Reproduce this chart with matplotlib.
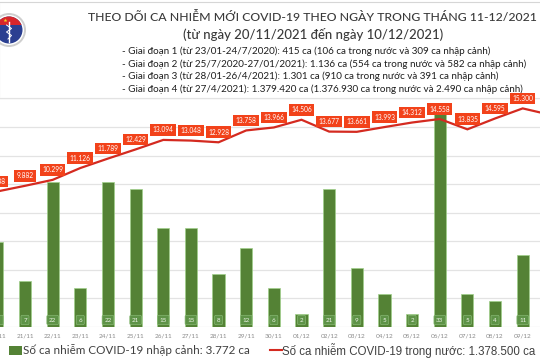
import matplotlib
matplotlib.use('Agg')
import matplotlib.pyplot as plt
from matplotlib.patches import Rectangle, Circle
import numpy as np

# ---------------- data ----------------
dates = ['20/11', '21/11', '22/11', '23/11', '24/11', '25/11', '26/11', '27/11', '28/11',
         '29/11', '30/11', '01/12', '02/12', '03/12', '04/12', '05/12', '06/12', '07/12',
         '08/12', '09/12', '10/12']
imported = [13, 7, 22, 6, 22, 21, 15, 15, 8, 12, 6, 2, 21, 9, 5, 2, 33, 5, 4, 11, np.nan]
domestic = [9488, 9882, 10299, 11126, 11789, 12429, 13094, 13048, 12928, 13758, 13966,
            14506, 13677, 13661, 13993, 14312, 14558, 13835, 14595, 15300, 14850]

title = "THEO DÕI CA NHIỄM MỚI COVID-19 THEO NGÀY TRONG THÁNG 11-12/2021"
subtitle = "(từ ngày 20/11/2021 đến ngày 10/12/2021)"
phases = [
    "- Giai đoạn 1 (từ 23/01-24/7/2020): 415 ca (106 ca trong nước và 309 ca nhập cảnh)",
    "- Giai đoạn 2 (từ 25/7/2020-27/01/2021): 1.136 ca (554 ca trong nước và 582 ca nhập cảnh)",
    "- Giai đoạn 3 (từ 28/01-26/4/2021): 1.301 ca (910 ca trong nước và 391 ca nhập cảnh)",
    "- Giai đoạn 4 (từ 27/4/2021): 1.379.420 ca (1.376.930 ca trong nước và 2.490 ca nhập cảnh)",
]
legend_bar = "Số ca nhiễm COVID-19 nhập cảnh: 3.772 ca"
legend_line = "Số ca nhiễm COVID-19 trong nước: 1.378.500 ca"

# ---------------- style ----------------
BAR = '#548235'
LINE = '#d42a20'
LBL = '#f2421a'
CAL = ['Lato', 'Open Sans', 'DejaVu Sans']
ARI = ['Liberation Sans', 'DejaVu Sans']

fig = plt.figure(figsize=(5.4, 3.6), dpi=100)
fig.patch.set_facecolor('white')
r = fig.canvas.get_renderer()

# overlay in pixel coordinates
ax_o = fig.add_axes([0, 0, 1, 1], zorder=0)
ax_o.set_xlim(0, 540)
ax_o.set_ylim(360, 0)
ax_o.axis('off')

def fit(t, target):
    w = t.get_window_extent(r).width
    t.set_fontsize(t.get_fontsize() * target / w)

# header box
ax_o.add_patch(Rectangle((-1, 1.5), 542, 96.9, fc='white', ec='#d6d6d6', lw=0.8))

# logo
ax_o.add_patch(Circle((9, 30), 17, fc='#cfcfcf', ec='none'))
ax_o.add_patch(Circle((9, 30), 15, fc='white', ec='none'))
disc = Circle((9, 30), 13.5, fc='#2b3f91', ec='none')
ax_o.add_patch(disc)
cap = Rectangle((-10, 10), 40, 14.5, fc='#d7262b', ec='none')
ax_o.add_patch(cap)
cap.set_clip_path(disc)
ax_o.plot([4.5], [20], marker='*', color='#f4d21f', ms=3, mec='none')
ax_o.plot([9, 9], [22, 42], color='white', lw=1.0)
ax_o.plot([6.5, 11.5, 6.5, 11.5, 8], [25, 28.5, 32, 35.5, 39], color='white', lw=0.7)

# titles
t1 = ax_o.text(88, 17, title, fontsize=10, family=CAL, weight='medium', color='#3a3a3a',
               ha='left', va='center')
fit(t1, 450)
t2 = ax_o.text(313, 34, subtitle, fontsize=10, family=CAL, weight='medium', color='#3a3a3a',
               ha='center', va='center')
fit(t2, 260)
tp = []
for s, y in zip(phases, [51.5, 64, 76.5, 89]):
    tp.append(ax_o.text(122, y, s, fontsize=7, family=CAL, color='#1e1e1e', ha='left', va='center'))
fit(tp[3], 401)
for t in tp[:3]:
    t.set_fontsize(tp[3].get_fontsize())

# legend
ax_o.add_patch(Rectangle((9, 345.5), 13, 9, fc=BAR, ec='none'))
tl1 = ax_o.text(23, 350, legend_bar, fontsize=9, family=CAL, color='#404040', ha='left', va='center')
fit(tl1, 225)
ax_o.plot([270, 282], [349.5, 349.5], color=LINE, lw=1.5)
tl2 = ax_o.text(282, 350, legend_line, fontsize=9, family=ARI, color='#404040', ha='left', va='center')
fit(tl2, 253)

# ---------------- chart ----------------
x = np.arange(len(dates))
base_px, top_px = 327.0, 98.4
ax_b = fig.add_axes([0, (360 - base_px) / 360, 1, (base_px - top_px) / 360], zorder=1)
ax_b.patch.set_alpha(0)
ax_l = ax_b.twinx()

XL = (1 - 25 / 27.65, 1 + 515 / 27.65)
BTOP = 34.8
LTOP = 16000
ax_b.set_xlim(*XL)
ax_b.set_ylim(0, BTOP)
ax_l.set_ylim(0, LTOP)

for a in (ax_b, ax_l):
    for sp in a.spines.values():
        sp.set_visible(False)
    a.set_yticks([])
    a.set_xticks([])

# gridlines (line axis steps of 2000)
for gv in range(0, LTOP + 1, 2000):
    ax_b.axhline(gv / LTOP * BTOP, color='#e3e3e3', lw=0.9, zorder=0)

def on_canvas(i):
    # label centre inside the visible width of the figure
    px = ax_b.transData.transform((i, 0))[0]
    return px <= 540

# bars
ax_b.bar(x, imported, width=0.44, color=BAR, edgecolor='#9fd08a', linewidth=0.5, zorder=2)
for i, v in zip(x, imported):
    if np.isnan(v):
        continue
    ax_b.annotate(str(int(v)), xy=(i, 0), xytext=(0, 7), textcoords='offset pixels',
                  ha='center', va='center', fontsize=4.5, color='#eef5e8', family=CAL,
                  annotation_clip=False, zorder=3,
                  bbox=dict(boxstyle='round,pad=0.35,rounding_size=0.2', fc='#5e9347',
                            ec='#86b872', lw=0.5))

# x labels
for i, d in zip(x, dates):
    if not on_canvas(i):
        continue
    ax_b.annotate(d, xy=(i, 0), xycoords=('data', 'axes fraction'), xytext=(0, -9),
                  textcoords='offset pixels', ha='center', va='center', fontsize=4.6,
                  color='#8a8a8a', family=CAL, annotation_clip=False)

# line
ax_l.plot(x, domestic, color=LINE, lw=1.6, zorder=3, solid_joinstyle='miter')
for i, v in zip(x, domestic):
    if not on_canvas(i):
        continue
    s = f"{v:,}".replace(',', '.')
    ax_l.annotate(s, xy=(i, v), xytext=(0, 10), textcoords='offset pixels',
                  ha='center', va='center', fontsize=4.8, color='white', family=CAL,
                  annotation_clip=False, zorder=4,
                  bbox=dict(boxstyle='square,pad=0.35', fc=LBL, ec='none'))

fig.savefig('out.png', dpi=100, facecolor='white')
